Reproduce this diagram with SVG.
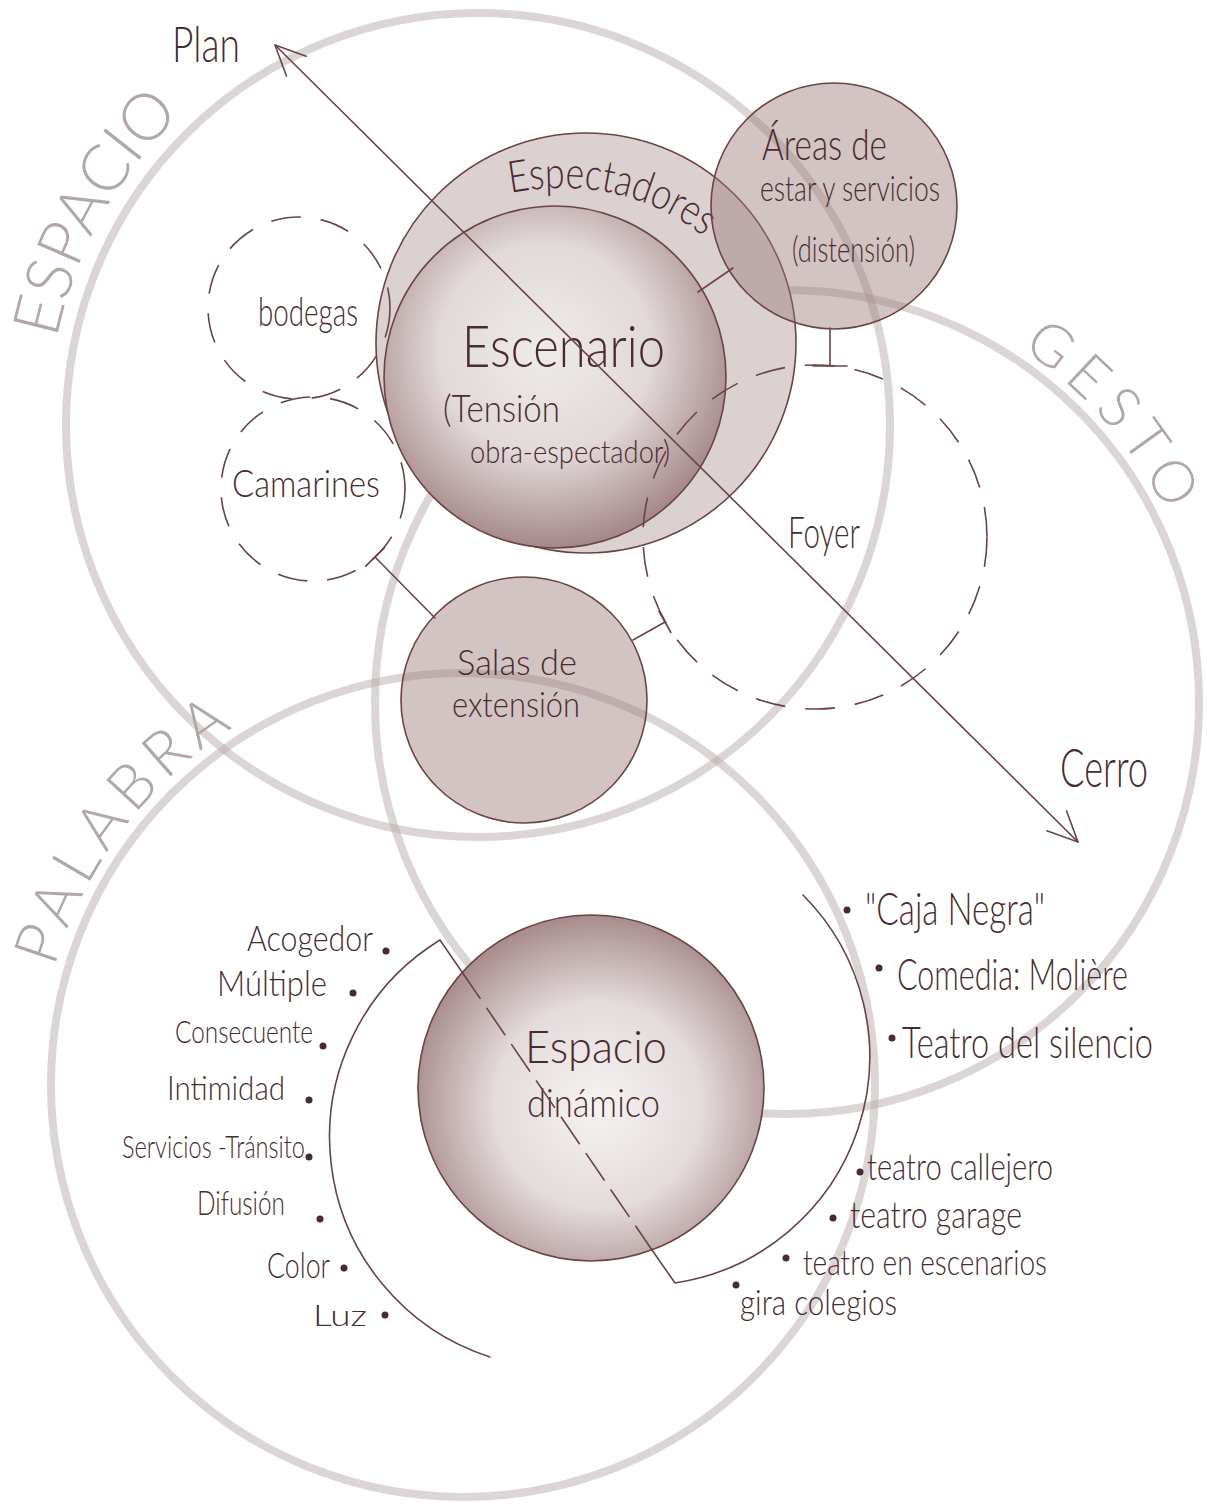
<svg xmlns="http://www.w3.org/2000/svg" width="1207" height="1506" viewBox="0 0 1207 1506">
<style>
.ring{fill:none;stroke:#b9acac;stroke-opacity:.5;stroke-width:8}
.big{fill:#b2a6a7;font-family:Lato,"Liberation Sans",sans-serif;font-weight:300}
.t{fill:#4a2b2d;font-family:Lato,"Liberation Sans",sans-serif;font-weight:300}
.edge{fill:none;stroke:#6b4346;stroke-width:1.6}
.dash{fill:none;stroke:#6b4346;stroke-width:1.6;stroke-dasharray:30 20}
.dot{fill:#4a2b2d}
.ln{fill:none;stroke:#6b4346;stroke-width:1.6;stroke-linecap:round}
.soft{fill:#997676;fill-opacity:.43;stroke:#6b4346;stroke-width:1.6}
</style>
<defs>
  <radialGradient id="sphere" cx=".47" cy=".42" r=".62">
    <stop offset="0" stop-color="#efebeb"/>
    <stop offset=".5" stop-color="#e2d9d9"/>
    <stop offset="1" stop-color="#9c7c7d"/>
  </radialGradient>
  <radialGradient id="sphere2" cx=".52" cy=".55" r=".6">
    <stop offset="0" stop-color="#f6f3f3"/>
    <stop offset=".5" stop-color="#e4dbdb"/>
    <stop offset="1" stop-color="#9c7c7d"/>
  </radialGradient>
  <marker id="chev" viewBox="-34 -18 38 36" refX="0" refY="0" markerWidth="38" markerHeight="36" markerUnits="userSpaceOnUse" orient="auto-start-reverse" overflow="visible">
    <path d="M -30 -14 L 0 0 L -30 14" fill="none" stroke="#6b4346" stroke-width="1.6" stroke-linecap="round" stroke-linejoin="round"/>
  </marker>
  <!-- baselines for the curved labels -->
  <path id="arcEspacio" d="M 54.5 350.3 A 430 430 0 0 1 330.9 20.9"/>
  <path id="arcGesto" d="M 860.6 284.4 A 424 424 0 0 1 1211 702"/>
  <path id="arcPalabra" d="M 38 1085 A 425 425 0 0 1 463 660"/>
  <path id="arcEspect" d="M 510 193 Q 625 172 708 240"/>
</defs>

<rect width="1207" height="1506" fill="#ffffff"/>

<!-- three large realm circles -->
<g id="espacio">
  <circle class="ring" cx="478" cy="425" r="412"/>
  <text class="big" font-size="65"><textPath href="#arcEspacio" startOffset="142" text-anchor="middle">ESPACIO</textPath></text>
</g>
<g id="gesto">
  <circle class="ring" cx="787" cy="702" r="412"/>
  <text class="big" font-size="58" letter-spacing="9"><textPath href="#arcGesto" startOffset="289" text-anchor="middle">GESTO</textPath></text>
</g>
<g id="palabra">
  <circle class="ring" cx="463" cy="1085" r="412"/>
  <text class="big" font-size="62" letter-spacing="7"><textPath href="#arcPalabra" startOffset="275" text-anchor="middle">PALABRA</textPath></text>
</g>

<g id="espectadores">
  <circle cx="586" cy="343" r="210" fill="#dbd1d1" stroke="#6b4346" stroke-width="1.6"/>
  <text class="t" font-size="44"><textPath href="#arcEspect" textLength="205" lengthAdjust="spacingAndGlyphs">Espectadores</textPath></text>
</g>

<g id="escenario">
  <circle cx="555" cy="377" r="171" fill="url(#sphere)" stroke="#6b4346" stroke-width="1.6"/>
  <text class="t" x="462" y="367" font-size="58" textLength="203" lengthAdjust="spacingAndGlyphs">Escenario</text>
  <text class="t" x="443" y="422" font-size="37" textLength="117" lengthAdjust="spacingAndGlyphs">(Tensión</text>
  <text class="t" x="470" y="463" font-size="32" textLength="200" lengthAdjust="spacingAndGlyphs">obra-espectador)</text>
</g>

<g id="areas">
  <circle class="soft" cx="834" cy="206" r="123"/>
  <text class="t" x="762" y="160" font-size="44" textLength="125" lengthAdjust="spacingAndGlyphs">Áreas de</text>
  <text class="t" x="760" y="201" font-size="36" textLength="180" lengthAdjust="spacingAndGlyphs">estar y servicios</text>
  <text class="t" x="792" y="262" font-size="36" textLength="123" lengthAdjust="spacingAndGlyphs">(distensión)</text>
</g>

<g id="salas">
  <circle class="soft" cx="524" cy="700" r="123" fill-opacity=".38"/>
  <text class="t" x="457" y="675" font-size="36" textLength="120" lengthAdjust="spacingAndGlyphs">Salas de</text>
  <text class="t" x="452" y="717" font-size="36" textLength="128" lengthAdjust="spacingAndGlyphs">extensión</text>
</g>

<g id="espacio-dinamico">
  <circle cx="591" cy="1088" r="173" fill="url(#sphere2)" stroke="#6b4346" stroke-width="1.6"/>
  <text class="t" x="525" y="1063" font-size="46" textLength="142" lengthAdjust="spacingAndGlyphs">Espacio</text>
  <text class="t" x="527" y="1117" font-size="40" textLength="133" lengthAdjust="spacingAndGlyphs">dinámico</text>
</g>

<g id="bodegas">
  <circle class="dash" cx="299" cy="308" r="91"/>
  <text class="t" x="258" y="326" font-size="40" textLength="100" lengthAdjust="spacingAndGlyphs">bodegas</text>
</g>

<g id="camarines">
  <circle class="dash" cx="313" cy="489" r="92"/>
  <text class="t" x="232" y="497" font-size="38" textLength="148" lengthAdjust="spacingAndGlyphs">Camarines</text>
</g>

<g id="foyer">
  <circle class="dash" cx="815" cy="537" r="172" stroke-dasharray="36 20"/>
  <text class="t" x="788" y="548" font-size="44" textLength="72" lengthAdjust="spacingAndGlyphs">Foyer</text>
</g>

<!-- qualities of the dynamic space -->
<g id="cualidades">
  <text class="t" x="247" y="951" font-size="36" textLength="126" lengthAdjust="spacingAndGlyphs">Acogedor</text>
  <circle class="dot" cx="386" cy="951" r="3.5"/>
  <text class="t" x="217" y="996" font-size="36" textLength="110" lengthAdjust="spacingAndGlyphs">Múltiple</text>
  <circle class="dot" cx="353" cy="993" r="3.5"/>
  <text class="t" x="175" y="1043" font-size="32" textLength="138" lengthAdjust="spacingAndGlyphs">Consecuente</text>
  <circle class="dot" cx="323" cy="1046" r="3.5"/>
  <text class="t" x="167" y="1100" font-size="34" textLength="118" lengthAdjust="spacingAndGlyphs">Intimidad</text>
  <circle class="dot" cx="309" cy="1100" r="3.5"/>
  <text class="t" x="122" y="1158" font-size="32" textLength="183" lengthAdjust="spacingAndGlyphs">Servicios -Tránsito</text>
  <circle class="dot" cx="309" cy="1157" r="3.5"/>
  <text class="t" x="197" y="1215" font-size="34" textLength="88" lengthAdjust="spacingAndGlyphs">Difusión</text>
  <circle class="dot" cx="320" cy="1219" r="3.5"/>
  <text class="t" x="267" y="1278" font-size="36" textLength="63" lengthAdjust="spacingAndGlyphs">Color</text>
  <circle class="dot" cx="344" cy="1268" r="3.5"/>
  <text class="t" x="313" y="1326" font-size="30" textLength="54" lengthAdjust="spacingAndGlyphs">Luz</text>
  <circle class="dot" cx="385" cy="1315" r="3.5"/>
</g>

<!-- theatre references -->
<g id="referencias">
  <circle class="dot" cx="847" cy="910" r="3.5"/>
  <text class="t" x="865" y="925" font-size="46" textLength="180" lengthAdjust="spacingAndGlyphs">"Caja Negra"</text>
  <circle class="dot" cx="879" cy="968" r="3.5"/>
  <text class="t" x="897" y="990" font-size="44" textLength="231" lengthAdjust="spacingAndGlyphs">Comedia: Molière</text>
  <circle class="dot" cx="892" cy="1038" r="3.5"/>
  <text class="t" x="902" y="1058" font-size="44" textLength="251" lengthAdjust="spacingAndGlyphs">Teatro del silencio</text>
  <circle class="dot" cx="860" cy="1172" r="3.5"/>
  <text class="t" x="867" y="1180" font-size="38" textLength="186" lengthAdjust="spacingAndGlyphs">teatro callejero</text>
  <circle class="dot" cx="833" cy="1218" r="3.5"/>
  <text class="t" x="850" y="1228" font-size="38" textLength="172" lengthAdjust="spacingAndGlyphs">teatro garage</text>
  <circle class="dot" cx="786" cy="1258" r="3.5"/>
  <text class="t" x="803" y="1275" font-size="36" textLength="244" lengthAdjust="spacingAndGlyphs">teatro en escenarios</text>
  <circle class="dot" cx="736" cy="1285" r="3.5"/>
  <text class="t" x="740" y="1315" font-size="36" textLength="157" lengthAdjust="spacingAndGlyphs">gira colegios</text>
</g>

<g id="connectors">
  <!-- Plan / Cerro axis -->
  <line class="ln" x1="275" y1="45" x2="1078" y2="842" marker-start="url(#chev)" marker-end="url(#chev)"/>
  <text class="t" x="172" y="62" font-size="50" textLength="68" lengthAdjust="spacingAndGlyphs">Plan</text>
  <text class="t" x="1060" y="787" font-size="54" textLength="88" lengthAdjust="spacingAndGlyphs">Cerro</text>
  <!-- escenario to areas -->
  <line class="ln" x1="698" y1="292" x2="733" y2="268"/>
  <!-- areas to foyer -->
  <path class="ln" d="M 830 328 L 830 366 M 813 366 L 847 366"/>
  <!-- salas to foyer -->
  <path class="ln" d="M 633 640 L 665 622 M 659.1 611.5 L 670.9 632.5"/>
  <!-- camarines to salas -->
  <path class="ln" d="M 435 618 L 375 557 M 365.7 566.1 L 384.3 547.9"/>
  <!-- bracket around the dynamic space -->
  <path class="ln" d="M 490 1357 A 231 231 0 0 1 440 940 L 462 972"/>
  <line class="ln" x1="462" y1="972" x2="652" y2="1250" stroke-dasharray="32 12" stroke-linecap="butt"/>
  <path class="ln" d="M 652 1250 L 675 1283 A 229 229 0 0 0 803 895"/>
</g>
</svg>
